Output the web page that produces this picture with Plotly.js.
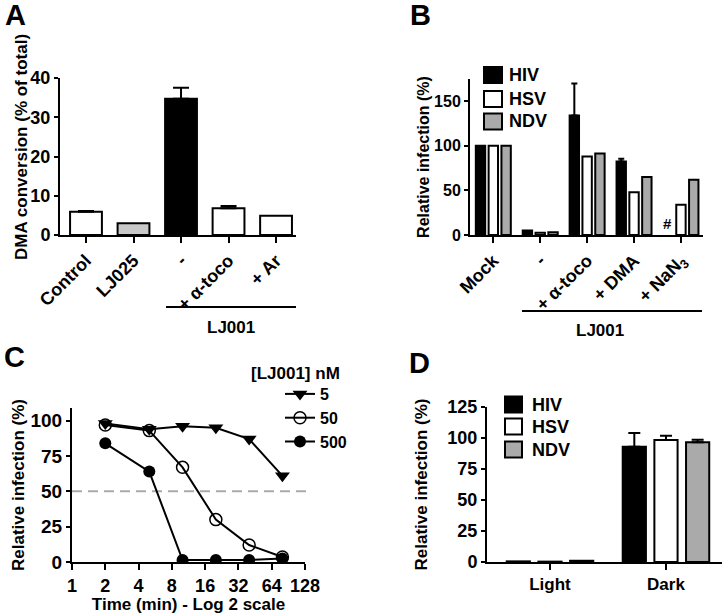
<!DOCTYPE html>
<html><head><meta charset="utf-8">
<script src="https://cdn.plot.ly/plotly-3.0.1.min.js"></script>
<style>html,body{margin:0;padding:0;background:#fff}</style>
</head><body><div id="chart" style="width:727px;height:614px"></div>
<script>
// ---- Panel A data ----
const aCategories = ['Control', 'LJ025', '-', '+ α-toco', '+ Ar'];
const aValues = [5.9, 3.0, 34.7, 6.8, 4.9];
const aErrors = [0.2, null, 2.8, 0.6, null];
const aColors = ['#ffffff', '#c8c8c8', '#000000', '#ffffff', '#ffffff'];
const aPatterns = ['', '', '', '/', '\\'];
const aGroupLabel = 'LJ001';
const aYTitle = 'DMA conversion (% of total)';
// ---- Panel B data ----
const bCategories = ['Mock', '-', '+ α-toco', '+ DMA', '+ NaN<sub>3</sub>'];
const bHIV = [100, 5, 134, 82.5, null];
const bHSV = [100, 2.5, 88, 48, 34];
const bNDV = [100, 3, 91.5, 65, 62];
const bHIVErr = [null, null, 36, 3, null];
const bGroupLabel = 'LJ001';
const bMissingMark = '#';
// ---- Panel C data ----
const cTimes = [2, 5, 10, 20, 40, 80];
const c5nM = [98, 94, 96, 95, 87, 61];
const c50nM = [97, 93, 67, 30, 12, 3.5];
const c500nM = [84, 64, 1.4, 1.4, 1.4, 2.5];
const cDoseNames = ['5', '50', '500'];
const cLogTicks = [1, 2, 4, 8, 16, 32, 64, 128];
const cHalf = 50;
// ---- Panel D data ----
const dCategories = ['Light', 'Dark'];
const dHIV = [0.5, 93];
const dHSV = [0.3, 98.4];
const dNDV = [1.0, 96.5];
const dHIVErr = [null, 11];
const dHSVErr = [null, 3.5];
const dNDVErr = [null, 2];
// ---- shared ----
const virusNames = ['HIV', 'HSV', 'NDV'];
const virusColors = ['#000000', '#ffffff', '#aaaaaa'];

const W = 727, H = 614;
const px = v => v / W;
const py = v => 1 - v / H;
const nanify = arr => arr.map(v => (v === null ? NaN : v));

const errStyle = (arr, w) => ({type: 'data', symmetric: false, array: nanify(arr),
  color: 'black', thickness: 2, width: w});

const traces = [];
// A
traces.push({type: 'bar', x: aCategories, y: aValues, xaxis: 'x', yaxis: 'y', width: 0.67,
  showlegend: false,
  marker: {color: aColors, line: {color: 'black', width: 2},
    pattern: {shape: aPatterns, fgcolor: 'black', bgcolor: 'white', size: 6, solidity: 0.3}},
  error_y: errStyle(aErrors, 8)});
// B
const groupOffsets = [-0.373, -0.1, 0.173];
const bSeries = [bHIV, bHSV, bNDV];
const bErrs = [bHIVErr, null, null];
bSeries.forEach((ys, i) => {
  const t = {type: 'bar', name: virusNames[i], x: bCategories, y: ys, xaxis: 'x2', yaxis: 'y2',
    width: 0.2, offset: groupOffsets[i], showlegend: false,
    marker: {color: virusColors[i], line: {color: 'black', width: 2}}};
  if (bErrs[i]) t.error_y = errStyle(bErrs[i], 3);
  traces.push(t);
});
// C
const cSeries = [c5nM, c50nM, c500nM];
const cMarkers = [
  {symbol: 'triangle-down', size: 13, color: 'black'},
  {symbol: 'circle-open', size: 12, color: 'black', line: {width: 1.5, color: 'black'}},
  {symbol: 'circle', size: 12, color: 'black'}
];
cSeries.forEach((ys, i) => {
  traces.push({type: 'scatter', mode: 'lines+markers', name: cDoseNames[i], x: cTimes, y: ys,
    xaxis: 'x3', yaxis: 'y3', line: {color: 'black', width: 2}, marker: cMarkers[i]});
});
// D
const dSeries = [dHIV, dHSV, dNDV];
const dErrs = [dHIVErr, dHSVErr, dNDVErr];
dSeries.forEach((ys, i) => {
  traces.push({type: 'bar', name: virusNames[i], x: dCategories, y: ys, xaxis: 'x4', yaxis: 'y4',
    width: 0.2, offset: groupOffsets[i], showlegend: false,
    marker: {color: virusColors[i], line: {color: 'black', width: 2}},
    error_y: errStyle(dErrs[i], 6)});
});

const baseAx = {showline: true, linecolor: 'black', linewidth: 2, ticks: 'outside',
  tickwidth: 2, tickcolor: 'black', showgrid: false, zeroline: false, fixedrange: true};
const xAx = Object.assign({}, baseAx, {ticklen: 6, tickfont: {size: 18}});
const yAx = Object.assign({}, baseAx, {ticklen: 4, tickfont: {size: 18}});
const ytitle = (text, standoff, size) => ({text: text, font: {size: size || 17}, standoff: standoff});

const shapes = [];
const annotations = [];
// A y-axis title (placed close to the tick labels as in the original)
annotations.push({xref: 'paper', yref: 'paper', x: px(21), y: py(147), text: aYTitle, textangle: -90,
  showarrow: false, xanchor: 'center', yanchor: 'middle', font: {size: 17}});
// LJ001 group lines
shapes.push({type: 'line', xref: 'paper', yref: 'paper', x0: px(166), x1: px(296), y0: py(307), y1: py(307),
  line: {color: 'black', width: 2}});
shapes.push({type: 'line', xref: 'paper', yref: 'paper', x0: px(522), x1: px(702), y0: py(311), y1: py(311),
  line: {color: 'black', width: 2}});
annotations.push({xref: 'paper', yref: 'paper', x: px(231), y: py(327), text: aGroupLabel, showarrow: false,
  xanchor: 'center', yanchor: 'middle', font: {size: 17}});
annotations.push({xref: 'paper', yref: 'paper', x: px(600), y: py(330), text: bGroupLabel, showarrow: false,
  xanchor: 'center', yanchor: 'middle', font: {size: 17}});
// '#' for not determined
annotations.push({xref: 'x2', yref: 'y2', x: bCategories[4], y: 0, text: bMissingMark, showarrow: false,
  xshift: -13, yanchor: 'bottom', yshift: 1, font: {size: 15}});
// 50% dashed line
shapes.push({type: 'line', xref: 'x3 domain', yref: 'y3', x0: 0, x1: 1.02, y0: cHalf, y1: cHalf,
  line: {color: '#aaaaaa', width: 2, dash: '10px,6px'}, layer: 'below'});
// manual legends for B and D
function addLegend(sqL, sqR, rows, textX) {
  virusNames.forEach((n, i) => {
    shapes.push({type: 'rect', xref: 'paper', yref: 'paper', x0: px(sqL), x1: px(sqR),
      y0: py(rows[i] + 8), y1: py(rows[i] - 8), fillcolor: virusColors[i], line: {color: 'black', width: 2}});
    annotations.push({xref: 'paper', yref: 'paper', x: px(textX), y: py(rows[i]), text: n, showarrow: false,
      xanchor: 'left', yanchor: 'middle', font: {size: 18}});
  });
}
addLegend(484, 502, [75, 99, 121.5], 507);
addLegend(505, 522, [404.5, 426.5, 449.5], 530);
// C legend title
annotations.push({xref: 'paper', yref: 'paper', x: px(249), y: py(373), text: '[LJ001] nM', showarrow: false,
  xanchor: 'left', yanchor: 'middle', font: {size: 17}});
// panel letters
[['A', 15, 15], ['B', 420, 15], ['C', 14, 357], ['D', 419, 363]].forEach(([t, x, y]) => {
  annotations.push({xref: 'paper', yref: 'paper', x: px(x), y: py(y), text: t, showarrow: false,
    xanchor: 'center', yanchor: 'middle', font: {size: 29}});
});

const layout = {
  width: W, height: H, margin: {l: 0, r: 0, t: 0, b: 0},
  paper_bgcolor: 'white', plot_bgcolor: 'white',
  font: {family: 'Liberation Sans, Arial, sans-serif', color: 'black', weight: 'bold', size: 17},
  barmode: 'overlay',
  xaxis: Object.assign({}, xAx, {domain: [px(60), px(296)], anchor: 'y', type: 'category',
    range: [-0.547, 4.42], tickangle: -45}),
  yaxis: Object.assign({}, yAx, {domain: [py(235), py(78)], anchor: 'x', range: [0, 40],
    tickvals: [0, 10, 20, 30, 40]}),
  xaxis2: Object.assign({}, xAx, {domain: [px(470), px(703)], anchor: 'y2', type: 'category',
    range: [-0.497, 4.47], tickangle: -45}),
  yaxis2: Object.assign({}, yAx, {domain: [py(235), py(79)], anchor: 'x2', range: [0, 175],
    tickvals: [0, 50, 100, 150], tickfont: {size: 16}, title: ytitle('Relative infection (%)', 0, 16)}),
  xaxis3: Object.assign({}, xAx, {domain: [px(72), px(305)], anchor: 'y3', type: 'log',
    range: [0, Math.log10(128)], tickmode: 'array', tickvals: cLogTicks, ticktext: cLogTicks.map(String),
    title: {text: 'Time (min) - Log 2 scale', font: {size: 17}, standoff: 3}}),
  yaxis3: Object.assign({}, yAx, {domain: [py(562), py(408)], anchor: 'x3', range: [0, 109],
    tickvals: [0, 25, 50, 75, 100], tickfont: {size: 19}, title: ytitle('Relative infection (%)', 2)}),
  xaxis4: Object.assign({}, xAx, {domain: [px(487), px(722)], anchor: 'y4', type: 'category',
    range: [-0.543, 1.483], tickfont: {size: 17}}),
  yaxis4: Object.assign({}, yAx, {domain: [py(562), py(407)], anchor: 'x4', range: [0, 125],
    tickvals: [0, 25, 50, 75, 100, 125], title: ytitle('Relative infection (%)', 15)}),
  showlegend: true,
  legend: {x: px(280), y: py(377), xanchor: 'left', yanchor: 'top', font: {size: 16},
    bgcolor: 'rgba(0,0,0,0)', tracegroupgap: 0, itemwidth: 30},
  shapes: shapes,
  annotations: annotations
};

Plotly.newPlot('chart', traces, layout, {displayModeBar: false, staticPlot: true});
</script>
</body></html>
